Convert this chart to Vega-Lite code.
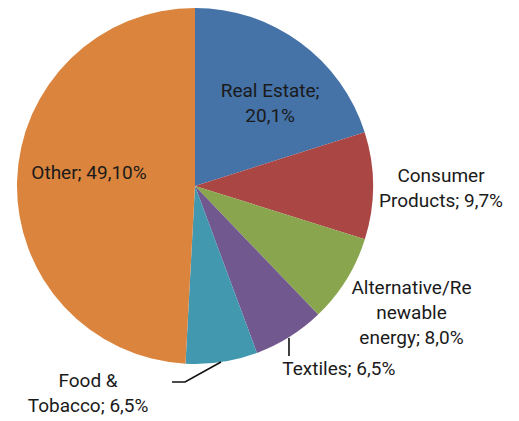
{
  "$schema": "https://vega.github.io/schema/vega-lite/v6.json",
  "autosize": {"type": "none"},
  "width": 390,
  "height": 372,
  "padding": {"left": 0, "top": 0, "right": 129, "bottom": 49},
  "background": "white",
  "config": {"view": {"stroke": null}, "text": {"font": "Roboto", "fontWeight": "normal", "fontSize": 19, "color": "#1a1a1a", "lineBreak": "\n", "lineHeight": 25, "align": "center", "baseline": "middle"}},
  "datasets": {
    "slices": [
      {"cat": "Real Estate", "rank": 1, "pct": 20.1, "label": "Real Estate;\n20,1%"},
      {"cat": "Consumer Products", "rank": 2, "pct": 9.7, "label": "Consumer\nProducts; 9,7%"},
      {"cat": "Alternative/Renewable energy", "rank": 3, "pct": 8.0, "label": "Alternative/Re\nnewable\nenergy; 8,0%"},
      {"cat": "Textiles", "rank": 4, "pct": 6.5, "label": "Textiles; 6,5%"},
      {"cat": "Food & Tobacco", "rank": 5, "pct": 6.5, "label": "Food &\nTobacco; 6,5%"},
      {"cat": "Other", "rank": 6, "pct": 49.1, "label": "Other; 49,10%"}
    ],
    "leaders": [
      {"leader": "Textiles", "i": 0, "x": 0.528, "y": -0.854},
      {"leader": "Textiles", "i": 1, "x": 0.528, "y": -0.955},
      {"leader": "Food", "i": 0, "x": 0.146, "y": -0.989},
      {"leader": "Food", "i": 1, "x": -0.056, "y": -1.101},
      {"leader": "Food", "i": 2, "x": -0.129, "y": -1.101}
    ]
  },
  "layer": [
    {
      "data": {"name": "slices"},
      "mark": {"type": "arc", "radius": 178},
      "encoding": {
        "theta": {"field": "pct", "type": "quantitative", "stack": true},
        "order": {"field": "rank", "type": "quantitative"},
        "color": {
          "field": "cat", "type": "nominal", "legend": null,
          "scale": {
            "domain": ["Real Estate", "Consumer Products", "Alternative/Renewable energy", "Textiles", "Food & Tobacco", "Other"],
            "range": ["#4572A7", "#AA4643", "#89A54E", "#71588F", "#4198AF", "#DB843D"]
          }
        }
      }
    },
    {
      "data": {"name": "slices"},
      "mark": {"type": "text", "radius": 112, "dx": 9, "dy": -4.5},
      "encoding": {
        "theta": {"field": "pct", "type": "quantitative", "stack": true},
        "order": {"field": "rank", "type": "quantitative"},
        "text": {"condition": {"test": "datum.cat === 'Real Estate'", "field": "label"}, "value": ""}
      }
    },
    {
      "data": {"name": "slices"},
      "mark": {"type": "text", "radius": 246, "dx": 0, "dy": -10},
      "encoding": {
        "theta": {"field": "pct", "type": "quantitative", "stack": true},
        "order": {"field": "rank", "type": "quantitative"},
        "text": {"condition": {"test": "datum.cat === 'Consumer Products'", "field": "label"}, "value": ""}
      }
    },
    {
      "data": {"name": "slices"},
      "mark": {"type": "text", "radius": 250, "dx": 4, "dy": -30},
      "encoding": {
        "theta": {"field": "pct", "type": "quantitative", "stack": true},
        "order": {"field": "rank", "type": "quantitative"},
        "text": {"condition": {"test": "datum.cat === 'Alternative/Renewable energy'", "field": "label"}, "value": ""}
      }
    },
    {
      "data": {"name": "slices"},
      "mark": {"type": "text", "radius": 220, "dx": 27, "dy": -3},
      "encoding": {
        "theta": {"field": "pct", "type": "quantitative", "stack": true},
        "order": {"field": "rank", "type": "quantitative"},
        "text": {"condition": {"test": "datum.cat === 'Textiles'", "field": "label"}, "value": ""}
      }
    },
    {
      "data": {"name": "slices"},
      "mark": {"type": "text", "radius": 200, "dx": -137, "dy": -3},
      "encoding": {
        "theta": {"field": "pct", "type": "quantitative", "stack": true},
        "order": {"field": "rank", "type": "quantitative"},
        "text": {"condition": {"test": "datum.cat === 'Food & Tobacco'", "field": "label"}, "value": ""}
      }
    },
    {
      "data": {"name": "slices"},
      "mark": {"type": "text", "radius": 106, "dx": 0, "dy": -10},
      "encoding": {
        "theta": {"field": "pct", "type": "quantitative", "stack": true},
        "order": {"field": "rank", "type": "quantitative"},
        "text": {"condition": {"test": "datum.cat === 'Other'", "field": "label"}, "value": ""}
      }
    },
    {
      "data": {"name": "leaders"},
      "mark": {"type": "line", "color": "#111", "strokeWidth": 1.6},
      "encoding": {
        "x": {"field": "x", "type": "quantitative", "axis": null, "scale": {"domain": [-1.0955, 1.0955], "nice": false, "zero": false}},
        "y": {"field": "y", "type": "quantitative", "axis": null, "scale": {"domain": [-1.0449, 1.0449], "nice": false, "zero": false}},
        "detail": {"field": "leader", "type": "nominal"},
        "order": {"field": "i", "type": "quantitative"}
      }
    }
  ]
}
